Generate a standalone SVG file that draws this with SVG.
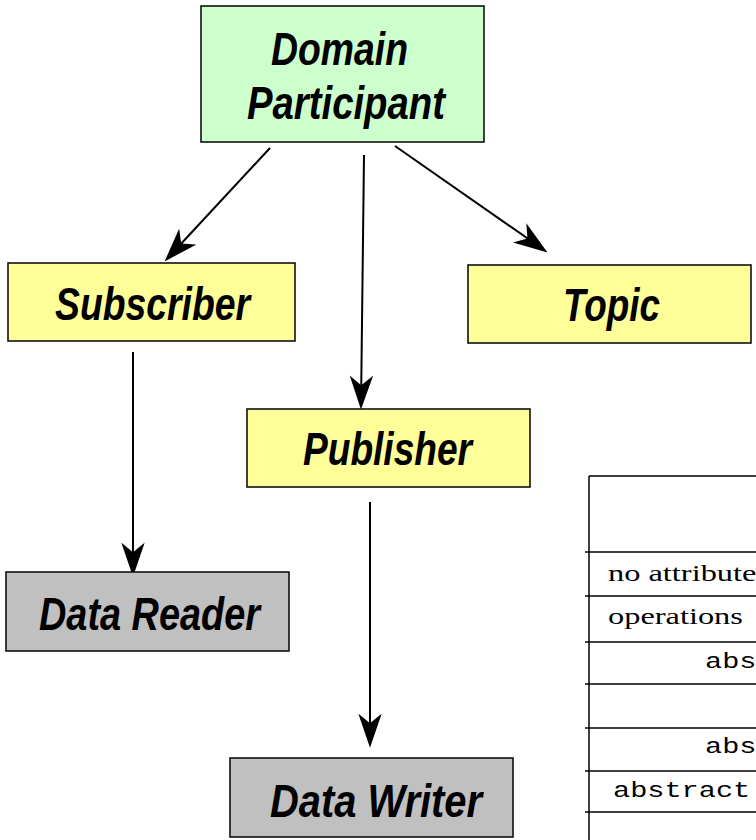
<svg xmlns="http://www.w3.org/2000/svg" width="756" height="840" viewBox="0 0 756 840">
<style>
.box{stroke:#111;stroke-width:1.6}
.green{fill:#ccffcc}
.yellow{fill:#ffff99}
.gray{fill:#c0c0c0}
.lbl{font-family:"Liberation Sans",Arial,sans-serif;font-weight:bold;font-style:italic;font-size:46px;fill:#000}
.conn{stroke:#000;stroke-width:2;fill:none;marker-end:url(#arr)}
.tl{stroke:#000;stroke-width:1.5}
.serif{font-family:"Liberation Serif","Times New Roman",serif;font-size:24px;fill:#000}
.mono{font-family:"Liberation Mono","Courier New",monospace;font-size:22px;fill:#000}
</style>
<defs>
<marker id="arr" markerUnits="userSpaceOnUse" markerWidth="34" markerHeight="24" viewBox="0 0 32 22" refX="22" refY="11" orient="auto">
<path d="M32,11 L0,0 L9,11 L0,22 Z" fill="#000"/>
</marker>
</defs>
<rect width="756" height="840" fill="#fff"/>
<g id="connectors">
<line class="conn" x1="270" y1="148" x2="171.8" y2="253.7"/>
<line class="conn" x1="364" y1="155" x2="361.1" y2="399"/>
<line class="conn" x1="395" y1="146" x2="538.8" y2="246.3"/>
<line class="conn" x1="133" y1="352" x2="133" y2="566"/>
<line class="conn" x1="370" y1="502" x2="370" y2="737"/>
</g>
<g id="domain-participant">
<rect class="box green" x="201" y="6" width="283" height="136"/>
<text class="lbl" x="271" y="65" textLength="137" lengthAdjust="spacingAndGlyphs">Domain</text>
<text class="lbl" x="247" y="119" textLength="198" lengthAdjust="spacingAndGlyphs">Participant</text>
</g>
<g id="subscriber">
<rect class="box yellow" x="8" y="263" width="287" height="78"/>
<text class="lbl" x="55" y="320" textLength="195" lengthAdjust="spacingAndGlyphs">Subscriber</text>
</g>
<g id="topic">
<rect class="box yellow" x="468" y="265" width="283" height="78"/>
<text class="lbl" x="563" y="321" textLength="97" lengthAdjust="spacingAndGlyphs">Topic</text>
</g>
<g id="publisher">
<rect class="box yellow" x="247" y="409" width="283" height="78"/>
<text class="lbl" x="303" y="465" textLength="169" lengthAdjust="spacingAndGlyphs">Publisher</text>
</g>
<g id="data-reader">
<rect class="box gray" x="6" y="572" width="283" height="79"/>
<text class="lbl" x="39" y="630" textLength="221" lengthAdjust="spacingAndGlyphs">Data Reader</text>
</g>
<g id="data-writer">
<rect class="box gray" x="230" y="758" width="283" height="79"/>
<text class="lbl" x="270" y="817" textLength="212" lengthAdjust="spacingAndGlyphs">Data Writer</text>
</g>
<g id="table">
<line class="tl" x1="589" y1="476" x2="589" y2="840"/>
<line class="tl" x1="589" y1="476" x2="756" y2="476"/>
<line class="tl" x1="585" y1="552" x2="756" y2="552"/>
<line class="tl" x1="585" y1="596" x2="756" y2="596"/>
<line class="tl" x1="585" y1="642" x2="756" y2="642"/>
<line class="tl" x1="585" y1="684" x2="756" y2="684"/>
<line class="tl" x1="585" y1="728" x2="756" y2="728"/>
<line class="tl" x1="585" y1="771" x2="756" y2="771"/>
<line class="tl" x1="585" y1="812" x2="756" y2="812"/>
<text class="serif" transform="translate(608,581) scale(1.35,1)">no attribute</text>
<text class="serif" transform="translate(608,624) scale(1.35,1)">operations</text>
<text class="mono" transform="translate(705,668) scale(1.3,1)">abs</text>
<text class="mono" transform="translate(705,753) scale(1.3,1)">abs</text>
<text class="mono" transform="translate(613,797) scale(1.3,1)">abstract</text>
</g>
</svg>
